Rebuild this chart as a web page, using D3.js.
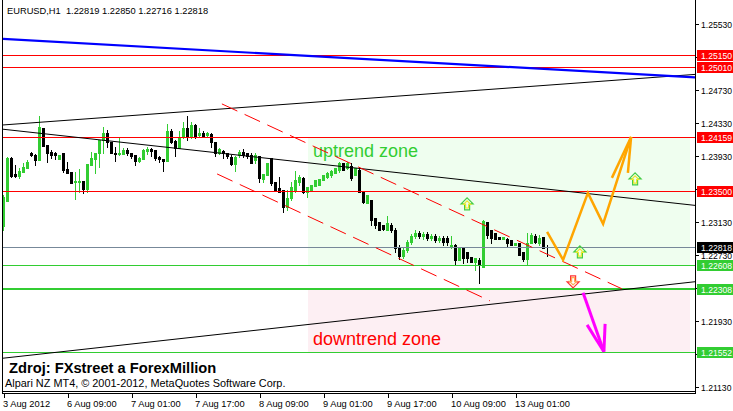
<!DOCTYPE html>
<html><head><meta charset="utf-8">
<script src="https://cdn.jsdelivr.net/npm/d3@7"></script>
<style>html,body{margin:0;padding:0;background:#fff;overflow:hidden}</style>
</head><body><svg id="c" width="733" height="411"></svg>
<script>
// ---- DATA ----
const symbolHeader = "EURUSD,H1  1.22819 1.22850 1.22716 1.22818";
const openP = [1.23080,1.23383,1.23905,1.23710,1.23686,1.23735,1.23783,1.23965,1.23941,1.23880,
 1.24268,1.24062,1.23977,1.23965,1.23892,1.23965,1.23771,1.23735,1.23613,1.23613,
 1.23626,1.23529,1.23820,1.23892,1.23965,1.24123,1.24208,1.24099,1.23965,1.23953,
 1.23953,1.24002,1.23965,1.23941,1.23868,1.23892,1.23989,1.24014,1.24002,1.23917,
 1.23892,1.23868,1.24232,1.24111,1.24026,1.24159,1.24268,1.24159,1.24305,1.24184,
 1.24208,1.24184,1.24196,1.24099,1.23965,1.23989,1.23965,1.23917,1.23832,1.23941,
 1.23977,1.23965,1.23941,1.23880,1.23929,1.23650,1.23698,1.23905,1.23613,1.23541,
 1.23516,1.23310,1.23419,1.23516,1.23613,1.23662,1.23492,1.23516,1.23565,1.23577,
 1.23638,1.23674,1.23698,1.23723,1.23759,1.23844,1.23783,1.23808,1.23698,1.23759,
 1.23492,1.23359,1.23395,1.23177,1.23128,1.23092,1.23031,1.23092,1.23031,1.22825,
 1.22716,1.22789,1.22886,1.22958,1.22995,1.22958,1.22983,1.22934,1.22958,1.22910,
 1.22934,1.22934,1.22825,1.22849,1.22667,1.22813,1.22764,1.22704,1.22643,1.22667,
 1.22582,1.23128,1.23031,1.22995,1.22946,1.22922,1.22922,1.22910,1.22849,1.22873,
 1.22764,1.22679,1.22873,1.22958,1.22873,1.22946,1.22819];
const highP = [1.23456,1.23917,1.23917,1.23820,1.23783,1.23844,1.23880,1.23977,1.23953,1.24414,
 1.24268,1.24062,1.24002,1.23977,1.23941,1.23965,1.23856,1.23735,1.23735,1.23771,
 1.23626,1.23832,1.23977,1.23965,1.24123,1.24281,1.24244,1.24099,1.24038,1.24147,
 1.24026,1.24026,1.23965,1.23941,1.23917,1.24014,1.24038,1.24026,1.24002,1.23929,
 1.23892,1.24317,1.24256,1.24123,1.24232,1.24341,1.24414,1.24341,1.24317,1.24268,
 1.24232,1.24220,1.24208,1.24099,1.24026,1.24002,1.23965,1.23941,1.23929,1.24002,
 1.24014,1.23965,1.23965,1.23965,1.23929,1.23710,1.23844,1.23905,1.23613,1.23674,
 1.23516,1.23516,1.23613,1.23747,1.23698,1.23674,1.23553,1.23577,1.23638,1.23650,
 1.23698,1.23735,1.23759,1.23783,1.23856,1.23844,1.23856,1.23844,1.23783,1.23795,
 1.23492,1.23456,1.23395,1.23177,1.23128,1.23092,1.23201,1.23116,1.23055,1.22849,
 1.22813,1.22910,1.22983,1.23031,1.23019,1.23007,1.23007,1.22983,1.22983,1.22958,
 1.22958,1.22958,1.22958,1.22861,1.22813,1.22825,1.22764,1.22704,1.22692,1.22692,
 1.23153,1.23128,1.23031,1.22995,1.22946,1.22946,1.22934,1.22910,1.22873,1.22873,
 1.22764,1.22995,1.22995,1.22983,1.22970,1.22946,1.22850];
const lowP = [1.23031,1.23383,1.23674,1.23674,1.23662,1.23735,1.23783,1.23929,1.23820,1.23880,
 1.24050,1.23856,1.23905,1.23892,1.23892,1.23735,1.23723,1.23601,1.23407,1.23492,
 1.23480,1.23492,1.23820,1.23723,1.23795,1.23965,1.24038,1.23965,1.23868,1.23941,
 1.23953,1.23941,1.23905,1.23820,1.23856,1.23892,1.23953,1.23929,1.23880,1.23856,
 1.23747,1.23868,1.24086,1.23929,1.24026,1.24147,1.24123,1.24147,1.24147,1.24171,
 1.24159,1.24159,1.24038,1.23929,1.23953,1.23905,1.23905,1.23820,1.23747,1.23917,
 1.23917,1.23905,1.23844,1.23844,1.23613,1.23613,1.23698,1.23577,1.23504,1.23492,
 1.23250,1.23274,1.23395,1.23492,1.23577,1.23480,1.23431,1.23516,1.23565,1.23577,
 1.23638,1.23662,1.23674,1.23723,1.23735,1.23759,1.23771,1.23638,1.23698,1.23492,
 1.23359,1.23359,1.23092,1.23055,1.23031,1.23031,1.23031,1.23007,1.22764,1.22679,
 1.22692,1.22764,1.22861,1.22934,1.22934,1.22922,1.22910,1.22910,1.22886,1.22886,
 1.22849,1.22849,1.22813,1.22607,1.22667,1.22631,1.22643,1.22643,1.22546,1.22388,
 1.22582,1.22934,1.22873,1.22922,1.22922,1.22922,1.22837,1.22849,1.22849,1.22728,
 1.22655,1.22607,1.22873,1.22873,1.22849,1.22813,1.22716];
const closeP = [1.23431,1.23905,1.23686,1.23686,1.23747,1.23795,1.23856,1.23941,1.23880,1.24281,
 1.24050,1.23965,1.23941,1.23941,1.23941,1.23759,1.23723,1.23601,1.23626,1.23626,
 1.23529,1.23832,1.23905,1.23965,1.24123,1.24208,1.24099,1.23965,1.23953,1.23965,
 1.24002,1.23965,1.23929,1.23868,1.23905,1.24002,1.24014,1.23989,1.23905,1.23892,
 1.23868,1.24232,1.24099,1.24026,1.24159,1.24268,1.24159,1.24305,1.24171,1.24208,
 1.24171,1.24208,1.24099,1.23965,1.24014,1.23965,1.23929,1.23832,1.23917,1.23977,
 1.23941,1.23929,1.23844,1.23941,1.23662,1.23710,1.23844,1.23601,1.23516,1.23492,
 1.23310,1.23419,1.23553,1.23638,1.23674,1.23492,1.23553,1.23577,1.23638,1.23650,
 1.23698,1.23723,1.23747,1.23783,1.23844,1.23759,1.23844,1.23662,1.23783,1.23492,
 1.23371,1.23456,1.23153,1.23092,1.23031,1.23043,1.23116,1.23031,1.22813,1.22716,
 1.22789,1.22886,1.22958,1.22995,1.22958,1.22983,1.22934,1.22958,1.22910,1.22934,
 1.22886,1.22886,1.22849,1.22667,1.22813,1.22692,1.22692,1.22643,1.22692,1.22607,
 1.23140,1.22970,1.22934,1.22922,1.22922,1.22946,1.22873,1.22849,1.22873,1.22728,
 1.22679,1.22873,1.22970,1.22886,1.22934,1.22813,1.22818];

const timeLabels = ["3 Aug 2012","6 Aug 09:00","7 Aug 01:00","7 Aug 17:00","8 Aug 09:00","9 Aug 01:00","9 Aug 17:00","10 Aug 09:00","13 Aug 01:00"];
const timeLabelBars = [0,16,32,48,64,80,96,112,128];
const priceTicks = [1.21130,1.21530,1.21930,1.22330,1.22730,1.23130,1.23530,1.23930,1.24330,1.24730,1.25130,1.25530];

const hLinePrices = [1.25150,1.25010,1.24159,1.23500,1.22818,1.22608,1.22308,1.21552];
const hLineColors = ["#ff0000","#ff0000","#ff0000","#ff0000","#778899","#32cd32","#32cd32","#32cd32"];
const hLineWidths = [1,1,1,1,1,1,2,1];
const boxBg = ["#ff0000","#ff0000","#ff0000","#ff0000","#000000","#32cd32","#32cd32","#32cd32"];

// zones: [barFrom, barTo, priceTop, priceBottom]
const upZone = [76, 171.6, 1.24159, 1.22608];
const downZone = [76, 171.6, 1.22308, 1.21552];

// trend lines [bar1, price1, bar2, price2]
const blueLine = [0, 1.25348, 172, 1.24885];
const blackUpper = [0, 1.24305, 172, 1.24915];
const blackDesc = [0, 1.24252, 172, 1.23333];
const blackLower = [0, 1.21474, 172, 1.22397];
const redDashUpper = [54.6, 1.24560, 154.6, 1.22316];
const redDashLower = [53.4, 1.23710, 121.6, 1.22170];

// scenario arrows
const orangeBars = [135.9, 139.9, 146.1, 149.9, 156.9];
const orangePrices = [1.23007, 1.22667, 1.23480, 1.23104, 1.24159];
const orangeWingBars = [152.1, 156.1];
const orangeWingPrices = [1.23662, 1.23722];
const magentaBars = [144.9, 150.1];
const magentaPrices = [1.22267, 1.21552];
const magentaWingBars = [145.9, 150.4];
const magentaWingPrices = [1.21878, 1.21890];

const upArrowBars = [115.9, 144.1, 157.9];
const upArrowPrices = [1.23347, 1.22764, 1.23650];
const downArrowBars = [142.4];
const downArrowPrices = [1.22400];

// ---- DRAW ----
const svg = d3.select("#c");
const FONT = "'Liberation Sans', Arial, sans-serif";
const x = d3.scaleLinear().domain([0, 136]).range([3.5, 547.5]);
const y = d3.scaleLinear().domain([1.21130, 1.25530]).range([386.5, 24]);
const ry = p => Math.round(y(p));

svg.append("rect").attr("width",733).attr("height",411).attr("fill","#fff");
svg.append("defs").append("clipPath").attr("id","plot")
  .append("rect").attr("x",3).attr("y",0).attr("width",692).attr("height",391);
const plot = svg.append("g").attr("clip-path","url(#plot)");

// zones
function zone(z, fill){
  plot.append("rect").attr("x", Math.round(x(z[0]))).attr("y", ry(z[2]))
    .attr("width", Math.round(x(z[1]) - x(z[0]))).attr("height", ry(z[3]) - ry(z[2]))
    .attr("fill", fill);
}
zone(upZone, "#effeef");
zone(downZone, "#fdeff3");

// zone texts
plot.append("text").attr("x",313).attr("y",ry(1.23930)+1).text("uptrend zone")
  .attr("font-family",FONT).attr("font-size","18px").attr("fill","#32cd32");
plot.append("text").attr("x",313).attr("y",ry(1.21930)+24).text("downtrend zone")
  .attr("font-family",FONT).attr("font-size","18px").attr("fill","#ff0000");

// candles
const candles = d3.range(openP.length).map(i => ({i, o:openP[i], h:highP[i], l:lowP[i], c:closeP[i]}));
const cg = plot.append("g").attr("shape-rendering","crispEdges");
candles.forEach(d => {
  const bull = d.c > d.o;
  const col = bull ? "#32cd32" : "#000000";
  const cx = x(d.i);
  cg.append("rect").attr("x", cx - 0.5).attr("y", ry(d.h)).attr("width",1)
    .attr("height", Math.max(1, ry(d.l) - ry(d.h) + 1)).attr("fill", col);
  const top = ry(Math.max(d.o, d.c)), bot = ry(Math.min(d.o, d.c));
  cg.append("rect").attr("x", cx - 1.5).attr("y", top).attr("width",3)
    .attr("height", Math.max(1, bot - top + 1)).attr("fill", col);
});

// horizontal lines
hLinePrices.forEach((p,k) => {
  const w = hLineWidths[k];
  const yy = w === 1 ? ry(p) + 0.5 : ry(p);
  plot.append("line").attr("x1",3).attr("x2",695).attr("y1",yy).attr("y2",yy)
    .attr("stroke",hLineColors[k]).attr("stroke-width",w).attr("shape-rendering","crispEdges");
});

// trend lines
function tline(t, color, width, dash){
  plot.append("line").attr("x1",x(t[0])).attr("y1",y(t[1])).attr("x2",x(t[2])).attr("y2",y(t[3]))
    .attr("stroke",color).attr("stroke-width",width).attr("stroke-dasharray",dash||null);
}
function ray(t, color, width){
  const slope = (t[3]-t[1])/(t[2]-t[0]);
  const b0 = -2, b1 = 176;
  plot.append("line").attr("x1",x(b0)).attr("y1",y(t[1]+slope*(b0-t[0])))
    .attr("x2",x(b1)).attr("y2",y(t[1]+slope*(b1-t[0])))
    .attr("stroke",color).attr("stroke-width",width);
}
ray(blackUpper, "#000", 1);
ray(blackDesc, "#000", 1);
ray(blackLower, "#000", 1);
ray(blueLine, "#0000ff", 2.2);
tline(redDashUpper, "#ff0000", 1, "17,8");
tline(redDashLower, "#ff0000", 1, "17,8");

// orange scenario
const lineGen = d3.line().x(d=>x(d[0])).y(d=>y(d[1]));
const oPts = orangeBars.map((b,k)=>[b, orangePrices[k]]);
plot.append("path").attr("d", lineGen(oPts)).attr("fill","none").attr("stroke","#ffa500")
  .attr("stroke-width",2.5).attr("stroke-linejoin","miter");
const tipO = oPts[oPts.length-1];
orangeWingBars.forEach((b,k)=>{
  plot.append("path").attr("d", lineGen([[b, orangeWingPrices[k]], tipO])).attr("fill","none")
    .attr("stroke","#ffa500").attr("stroke-width",2.5);
});
// magenta scenario
const mPts = magentaBars.map((b,k)=>[b, magentaPrices[k]]);
plot.append("path").attr("d", lineGen(mPts)).attr("fill","none").attr("stroke","#ff00ff").attr("stroke-width",3);
magentaWingBars.forEach((b,k)=>{
  plot.append("path").attr("d", lineGen([[b, magentaWingPrices[k]], mPts[1]])).attr("fill","none")
    .attr("stroke","#ff00ff").attr("stroke-width",3);
});

// small hollow arrows
function arrow(cx, cy, dir, outer, inner){
  const base = [[0,-6],[6,0],[2.5,0],[2.5,6],[-2.5,6],[-2.5,0],[-6,0]];
  [[1,outer],[0.6,inner]].forEach(([s,col])=>{
    const pts = base.map(p=>[(cx + p[0]*s).toFixed(1), (cy + dir*p[1]*s + (s<1? dir*0.6:0)).toFixed(1)].join(",")).join(" ");
    plot.append("polygon").attr("points",pts).attr("fill","none").attr("stroke",col).attr("stroke-width",1.2);
  });
}
upArrowBars.forEach((b,k)=>arrow(x(b), y(upArrowPrices[k]), 1, "#44cc44", "#e8e830"));
downArrowBars.forEach((b,k)=>arrow(x(b), y(downArrowPrices[k]), -1, "#ff3333", "#ffaa55"));

// texts
svg.append("text").attr("x",7).attr("y",14).text(symbolHeader)
  .attr("font-family",FONT).attr("font-size","9.3px").attr("fill","#000")
  .style("white-space","pre");
svg.append("text").attr("x",9).attr("y",373).text("Zdroj: FXstreet a ForexMillion")
  .attr("font-family",FONT).attr("font-size","14.7px").attr("font-weight","bold").attr("fill","#000");
svg.append("text").attr("x",5).attr("y",387).text("Alpari NZ MT4, © 2001-2012, MetaQuotes Software Corp.")
  .attr("font-family",FONT).attr("font-size","10.9px").attr("fill","#000");

// frame
const fr = svg.append("g").attr("shape-rendering","crispEdges");
fr.append("line").attr("x1",2.5).attr("x2",2.5).attr("y1",0).attr("y2",394).attr("stroke","#000");
fr.append("line").attr("x1",695.5).attr("x2",695.5).attr("y1",0).attr("y2",394).attr("stroke","#000");
fr.append("line").attr("x1",2).attr("x2",696).attr("y1",391.5).attr("y2",391.5).attr("stroke","#000");
fr.append("line").attr("x1",2).attr("x2",696).attr("y1",393.5).attr("y2",393.5).attr("stroke","#000");

// x axis labels
timeLabelBars.forEach((b,k)=>{
  const xx = Math.round(x(b)) + 0.5;
  fr.append("line").attr("x1",xx).attr("x2",xx).attr("y1",394).attr("y2",398).attr("stroke","#000");
  svg.append("text").attr("x", x(b) - 0.5).attr("y",407).text(timeLabels[k])
    .attr("font-family",FONT).attr("font-size","9.3px").attr("fill","#000");
});

// y axis ticks & labels (labels hidden where a price box covers them)
const AXF = "8.6px";
priceTicks.forEach(p=>{
  const yy = ry(p) + 0.5;
  fr.append("line").attr("x1",696).attr("x2",699).attr("y1",yy).attr("y2",yy).attr("stroke","#000");
  const covered = hLinePrices.some(q => Math.abs(y(q) - y(p)) < 5);
  if (!covered) {
    svg.append("text").attr("x",701).attr("y",ry(p)+3.5).text(p.toFixed(5))
      .attr("font-family",FONT).attr("font-size",AXF).attr("fill","#000");
  }
});
// price boxes
hLinePrices.forEach((p,k)=>{
  svg.append("rect").attr("x",697).attr("y",ry(p)-5).attr("width",36).attr("height",11)
    .attr("fill",boxBg[k]).attr("shape-rendering","crispEdges");
  svg.append("text").attr("x",701).attr("y",ry(p)+4).text(p.toFixed(5))
    .attr("font-family",FONT).attr("font-size",AXF).attr("fill","#fff");
});
</script>
</body></html>
